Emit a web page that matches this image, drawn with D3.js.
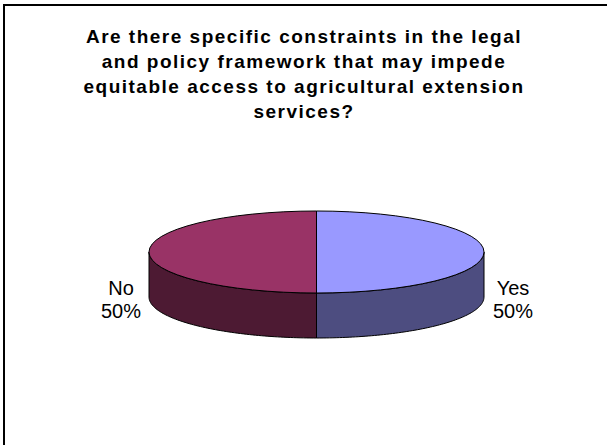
<!DOCTYPE html>
<html>
<head>
<meta charset="utf-8">
<script src="https://cdn.jsdelivr.net/npm/d3@7"></script>
<style>
html,body{margin:0;padding:0;background:#fff;}
svg{display:block;}
</style>
</head>
<body>
<svg id="chart" width="607" height="445"></svg>
<script>
const titleLines = [
  "Are there specific constraints in the legal",
  "and policy framework that may impede",
  "equitable access to agricultural extension",
  "services?"
];
const categories = ["Yes", "No"];
const values = [50, 50];
const topColors = ["#9999FF", "#993366"];
const sideColors = ["#4D4D80", "#4D1A33"];

const svg = d3.select("#chart");
const W = 607, H = 445;

// frame (cut off at right and bottom like the reference)
svg.append("rect").attr("x", 0).attr("y", 0).attr("width", W).attr("height", H).attr("fill", "#fff");
svg.append("path")
  .attr("d", `M4,${H + 5} L4,5 L${W + 5},5`)
  .attr("fill", "none").attr("stroke", "#000").attr("stroke-width", 2);

// title
const title = svg.append("text")
  .attr("text-anchor", "middle")
  .attr("font-family", "Arial, 'Liberation Sans', sans-serif")
  .attr("font-weight", "bold")
  .attr("font-size", 19)
  .attr("letter-spacing", 1.5)
  .attr("fill", "#000");
titleLines.forEach((t, i) => {
  title.append("tspan").attr("x", 304).attr("y", 43 + i * 25).text(t);
});

// 3D pie
const cx = 316.5, cy = 252, rx = 167.5, ry = 41, depth = 45;
const pie = d3.pie().sort(null).value(d => d.value);
const arcs = pie(categories.map((c, i) => ({ cat: c, value: values[i], i })));

function pt(a, dy) {
  return [cx + rx * Math.sin(a), cy - ry * Math.cos(a) + (dy || 0)];
}
function ellipseArcPath(a0, a1, dy, n) {
  const pts = [];
  for (let k = 0; k <= n; k++) {
    const a = a0 + (a1 - a0) * k / n;
    pts.push(pt(a, dy));
  }
  return pts;
}
const line = d3.line();

const g = svg.append("g");

// side walls (front half only: angles PI/2 .. 3PI/2)
arcs.forEach(d => {
  const s = Math.max(d.startAngle, Math.PI / 2);
  const e = Math.min(d.endAngle, 3 * Math.PI / 2);
  if (e <= s) return;
  const topPts = ellipseArcPath(s, e, 0, 80);
  const botPts = ellipseArcPath(e, s, depth, 80);
  const pts = topPts.concat(botPts);
  g.append("path")
    .attr("d", line(pts) + "Z")
    .attr("fill", sideColors[d.data.i])
    .attr("stroke", "#000").attr("stroke-width", 1).attr("stroke-linejoin", "round");
});

// top faces
const arcGen = d3.arc().innerRadius(0).outerRadius(rx);
const topG = g.append("g").attr("transform", `translate(${cx},${cy}) scale(1,${ry / rx})`);
arcs.forEach(d => {
  topG.append("path")
    .attr("d", arcGen(d))
    .attr("fill", topColors[d.data.i])
    .attr("stroke", "#000").attr("stroke-width", 1)
    .attr("vector-effect", "non-scaling-stroke");
});

// labels
const labelPos = { "Yes": [513, 295], "No": [121, 295] };
arcs.forEach(d => {
  const [lx, ly] = labelPos[d.data.cat];
  const t = svg.append("text")
    .attr("text-anchor", "middle")
    .attr("font-family", "Arial, 'Liberation Sans', sans-serif")
    .attr("font-size", 20)
    .attr("fill", "#000");
  t.append("tspan").attr("x", lx).attr("y", ly).text(d.data.cat);
  t.append("tspan").attr("x", lx).attr("y", ly + 23).text(Math.round(d.value / d3.sum(values) * 100) + "%");
});
</script>
</body>
</html>
